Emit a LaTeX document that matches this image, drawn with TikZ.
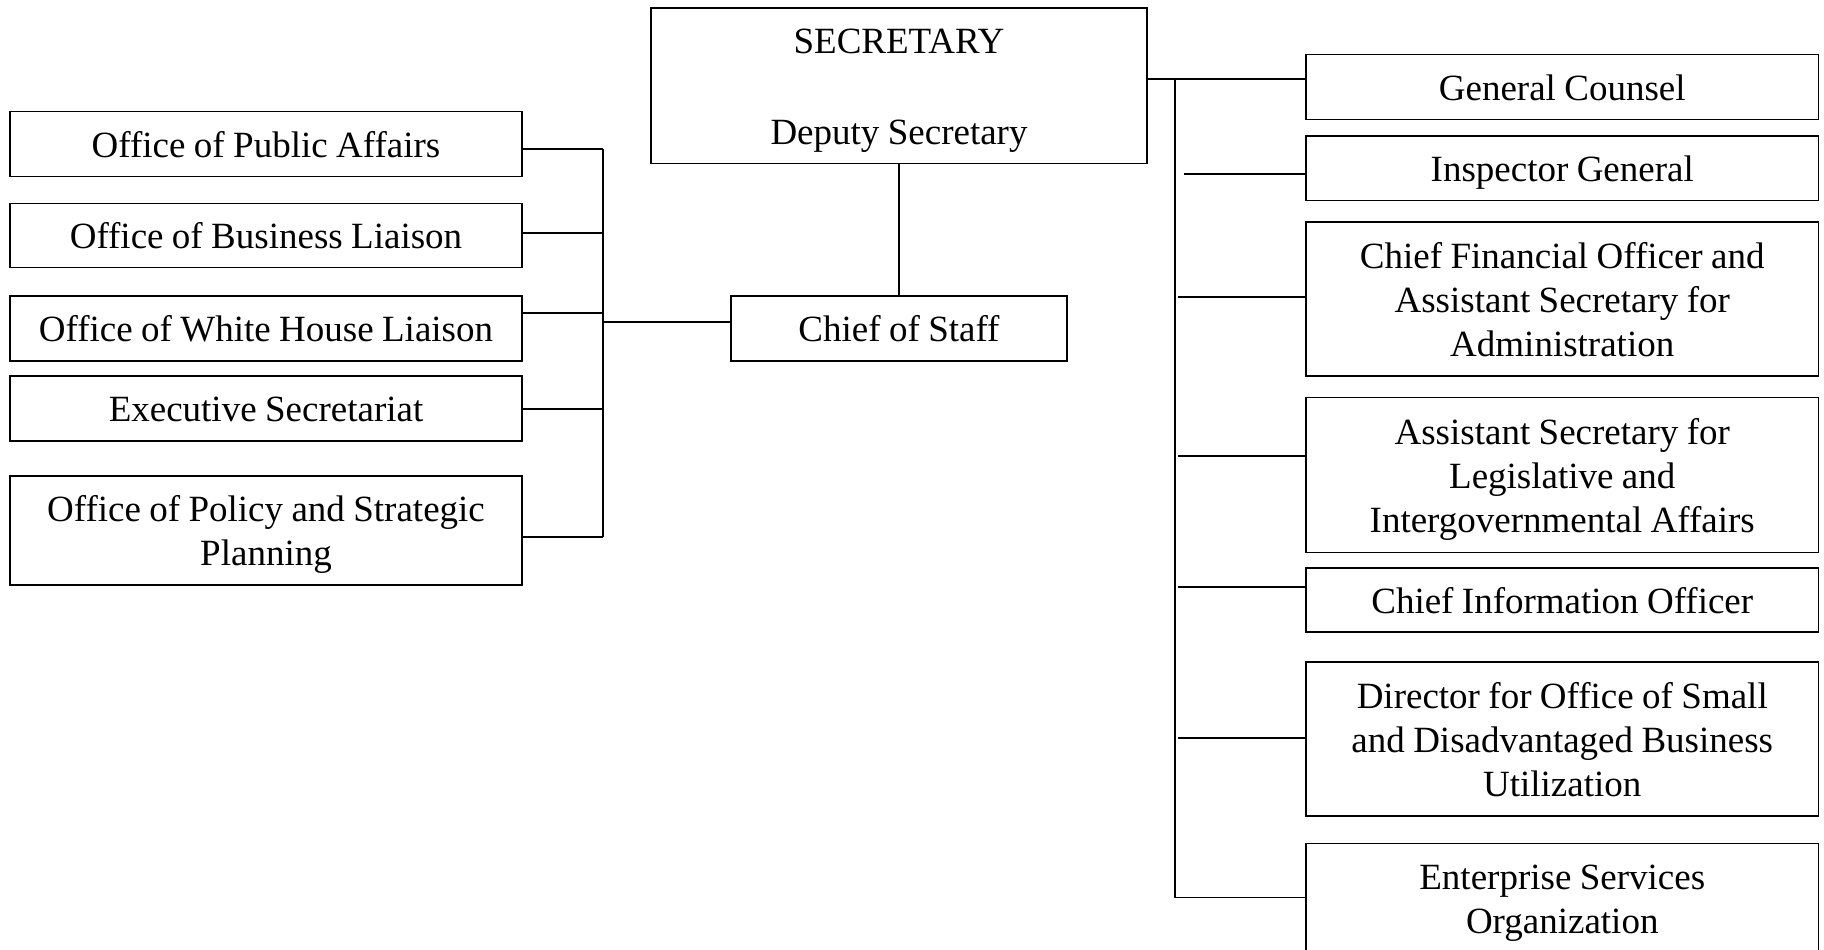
\documentclass[tikz,border=0pt]{standalone}
\usepackage{fontspec}
\setmainfont{Liberation Serif}
\newcommand\linestrut{\vrule height35pt depth9pt width0pt}
\newcommand\narrowspace{\spaceskip=8.4pt\relax}
\begin{document}
\begin{tikzpicture}[x=1pt,y=-1pt,
  box/.style={draw, line width=1.3pt, inner sep=0pt, align=center,
    font=\fontsize{37}{44}\selectfont,
    execute at begin node={\narrowspace\leavevmode\linestrut},
    execute at end node={\linestrut}},
  lbox/.style={box, minimum width=512pt, text width=505pt},
  rbox/.style={box, minimum width=512.5pt, text width=505pt},
  conn/.style={line width=1.3pt}]
\clip (0,0) rectangle (1824,950);
\fill[white] (0,0) rectangle (1824,950);
% top
\node[box, minimum width=496pt, text width=490pt, minimum height=155.5pt] (sec) at (899,85.8) {SECRETARY\\[46.7pt]Deputy Secretary};
\node[box, minimum width=336pt, text width=330pt, minimum height=65pt] (cos) at (899,328.5) {Chief of Staff};
% left
\node[lbox, minimum height=64.5pt] (pa) at (266,144) {Office of Public Affairs};
\node[lbox, minimum height=64.5pt] (bl) at (266,235.5) {Office of Business Liaison};
\node[lbox, minimum height=65pt] (wh) at (266,328.5) {Office of White House Liaison};
\node[lbox, minimum height=65pt] (es) at (266,408.5) {Executive Secretariat};
\node[lbox, minimum height=109pt] (ps) at (266,530.5) {Office of Policy and Strategic\\Planning};
% right
\node[rbox, minimum height=64.5pt] (gc) at (1562.25,87) {General Counsel};
\node[rbox, minimum height=64.5pt] (ig) at (1562.25,168.3) {Inspector General};
\node[rbox, minimum height=154pt] (cfo) at (1562.25,299) {Chief Financial Officer and\\Assistant Secretary for\\Administration};
\node[rbox, minimum height=155pt] (asl) at (1562.25,475) {Assistant Secretary for\\Legislative and\\Intergovernmental Affairs};
\node[rbox, minimum height=64pt] (cio) at (1562.25,600) {Chief Information Officer};
\node[rbox, minimum height=154pt] (dir) at (1562.25,739) {Director for Office of Small\\and Disadvantaged Business\\Utilization};
\node[rbox, minimum height=154pt] (eso) at (1562.25,920.3) {Enterprise Services\\Organization\\\mbox{}};
% left bus
\coordinate (lb1) at (603,149);
\coordinate (lb2) at (603,233);
\coordinate (lb3) at (603,313);
\coordinate (lbc) at (603,322);
\coordinate (lb4) at (603,409);
\coordinate (lb5) at (603,537);
\draw[conn] (sec.south) -- (cos.north);
\draw[conn] (lb1) -- (lb5);
\draw[conn] (lb1) -- (lb1 -| pa.east);
\draw[conn] (lb2) -- (lb2 -| bl.east);
\draw[conn] (lb3) -- (lb3 -| wh.east);
\draw[conn] (lb4) -- (lb4 -| es.east);
\draw[conn] (lb5) -- (lb5 -| ps.east);
\draw[conn] (lbc) -- (lbc -| cos.west);
% right bus
\coordinate (rb0) at (1175,79);
\coordinate (rb1) at (1183.5,174);
\coordinate (rb2) at (1178,297);
\coordinate (rb3) at (1178,456);
\coordinate (rb4) at (1178,587);
\coordinate (rb5) at (1178,738);
\coordinate (rb6) at (1175,897.7);
\draw[conn] (rb0 -| sec.east) -- (rb0 -| gc.west);
\draw[conn] (rb0) -- (rb6);
\draw[conn] (rb1) -- (rb1 -| ig.west);
\draw[conn] (rb2) -- (rb2 -| cfo.west);
\draw[conn] (rb3) -- (rb3 -| asl.west);
\draw[conn] (rb4) -- (rb4 -| cio.west);
\draw[conn] (rb5) -- (rb5 -| dir.west);
\draw[conn] (rb6) -- (rb6 -| eso.west);
\end{tikzpicture}
\end{document}
